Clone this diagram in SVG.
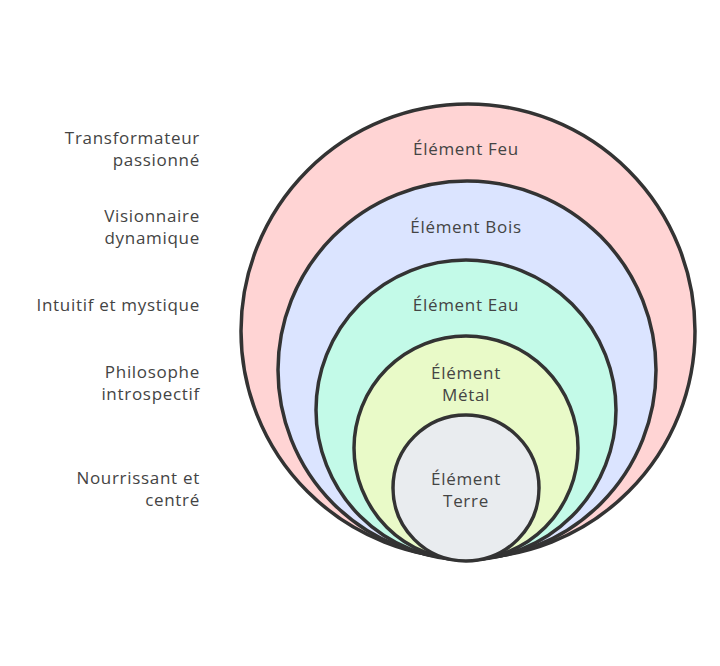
<svg xmlns="http://www.w3.org/2000/svg" width="720" height="666" viewBox="0 0 720 666">
<style>
.c{stroke:#333;stroke-width:3.5}
text{font-family:"Open Sans","DejaVu Sans",sans-serif;font-size:17px;letter-spacing:0.7px;fill:#444}
.l{text-anchor:end}
.m{text-anchor:middle}
</style>
<rect width="720" height="666" fill="#fff"/>
<g id="feu"><circle class="c" cx="468" cy="331" r="227" fill="#ffd4d4"/><text class="m" x="466" y="155">Élément Feu</text></g>
<g id="bois"><circle class="c" cx="467" cy="370" r="189" fill="#dbe4ff"/><text class="m" x="466" y="233">Élément Bois</text></g>
<g id="eau"><circle class="c" cx="466" cy="410" r="150" fill="#c3fae8"/><text class="m" x="466" y="311">Élément Eau</text></g>
<g id="metal"><circle class="c" cx="466" cy="448" r="112" fill="#e9fac8"/><text class="m" x="466" y="379">Élément</text><text class="m" x="466" y="401">Métal</text></g>
<g id="terre"><circle class="c" cx="466" cy="488" r="73" fill="#e9ecef"/><text class="m" x="466" y="485">Élément</text><text class="m" x="466" y="507">Terre</text></g>
<g id="labels">
<text class="l" x="200" y="144">Transformateur</text><text class="l" x="200" y="166">passionné</text>
<text class="l" x="200" y="222">Visionnaire</text><text class="l" x="200" y="244">dynamique</text>
<text class="l" x="200" y="311">Intuitif et mystique</text>
<text class="l" x="200" y="378">Philosophe</text><text class="l" x="200" y="400">introspectif</text>
<text class="l" x="200" y="484">Nourrissant et</text><text class="l" x="200" y="506">centré</text>
</g>
</svg>
